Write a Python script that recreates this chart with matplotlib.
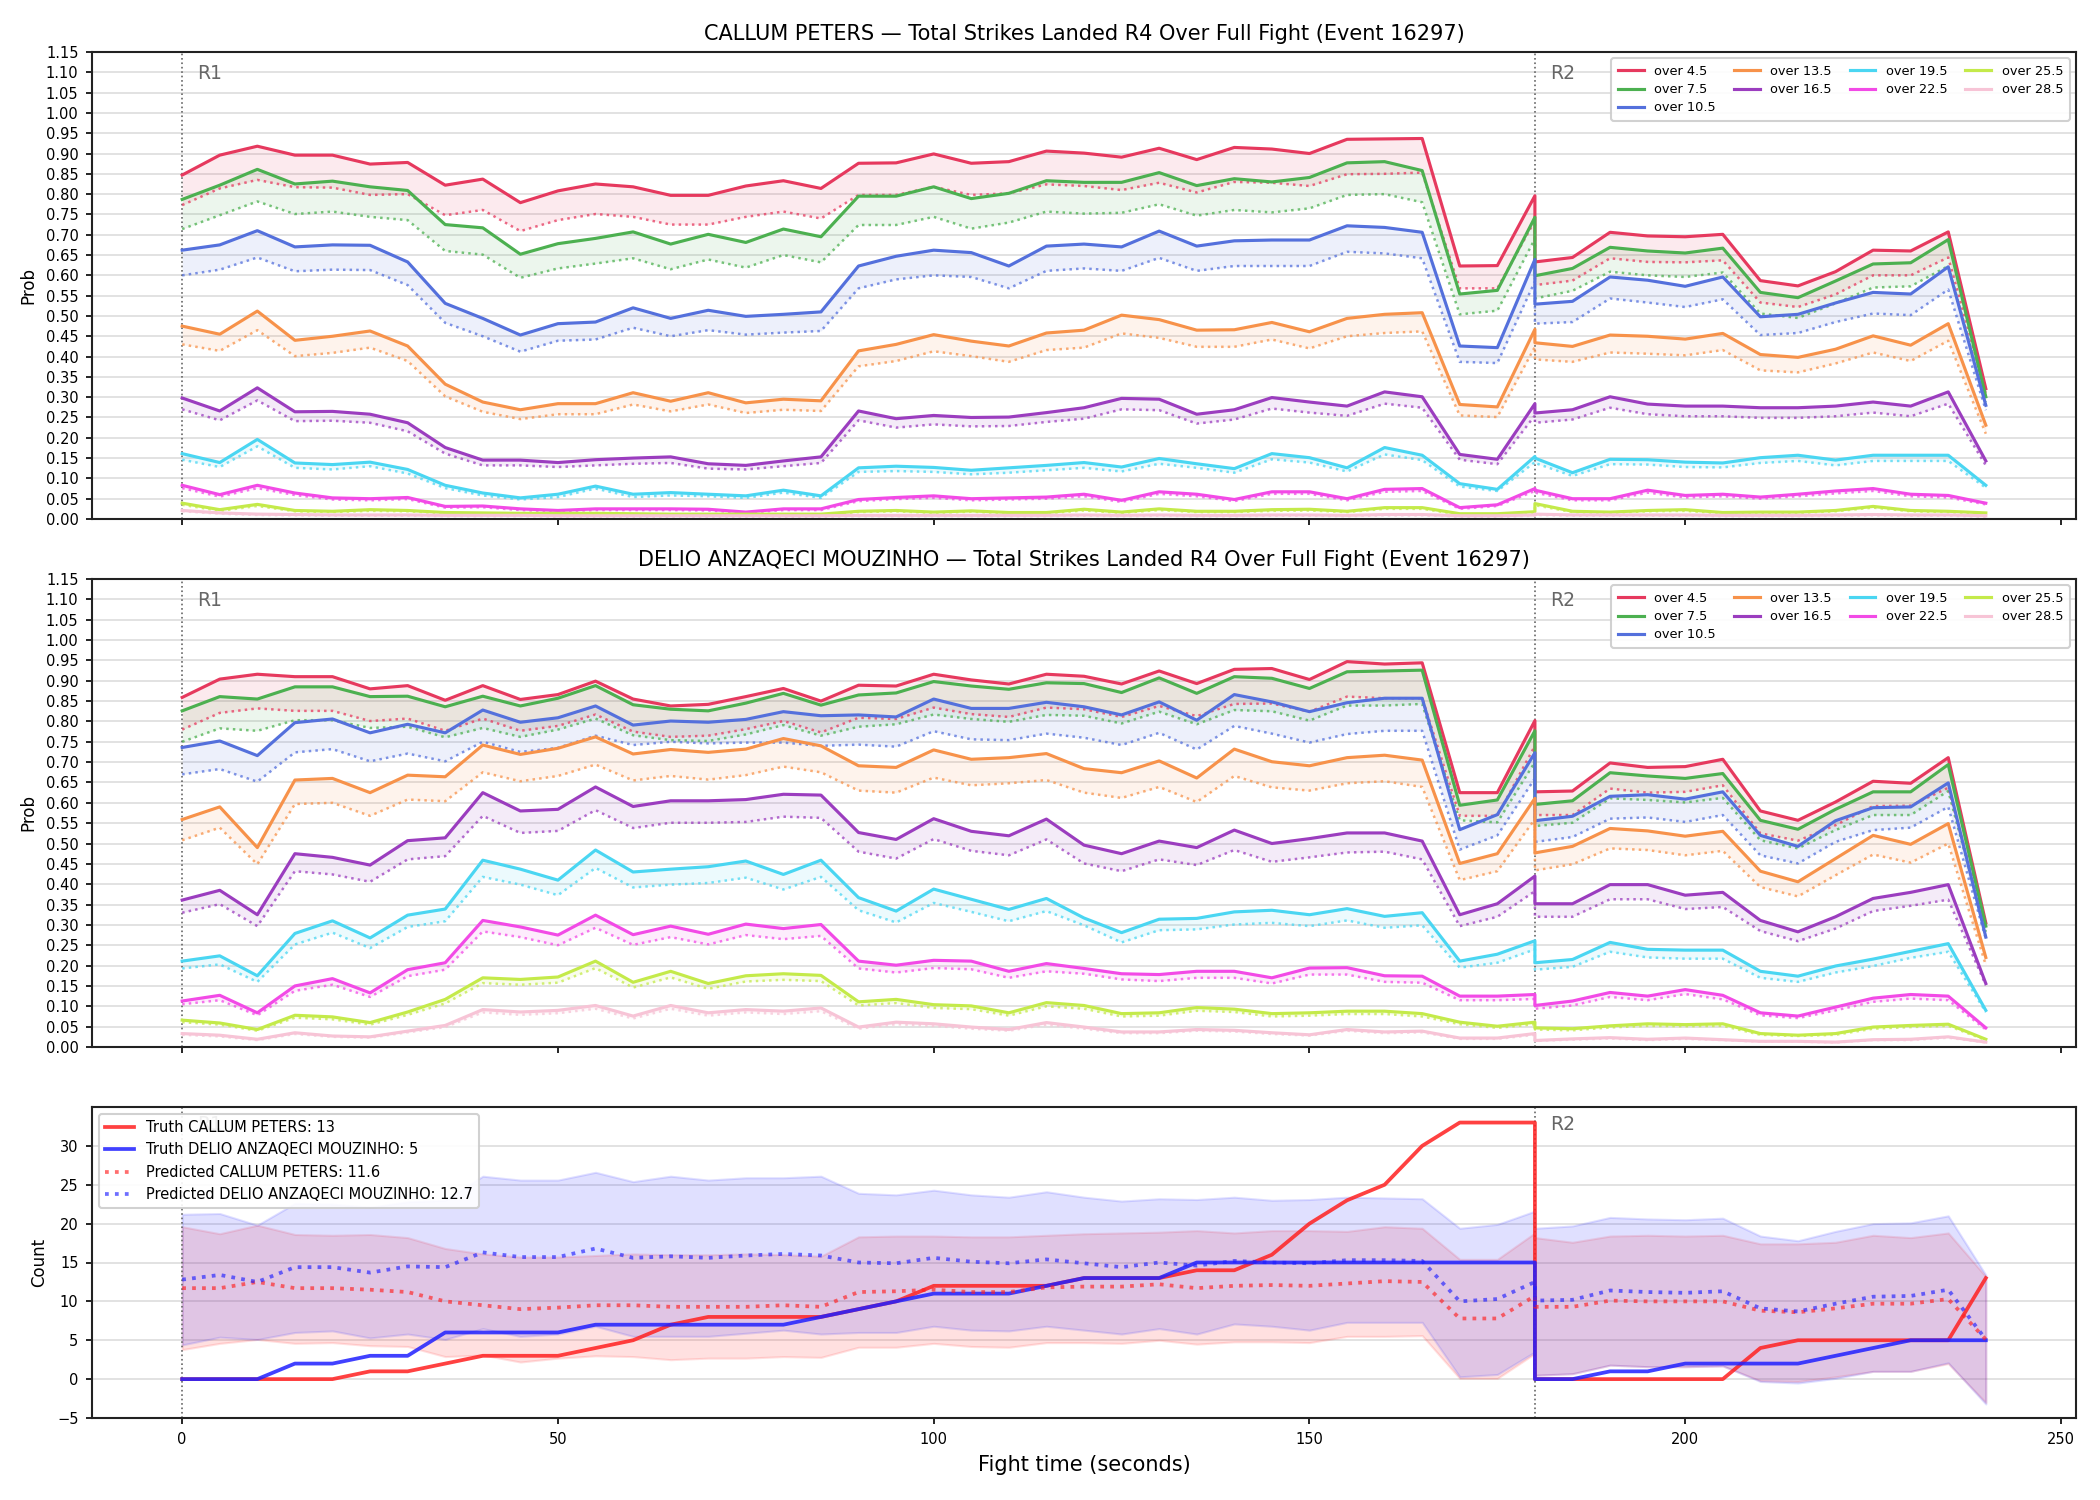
import matplotlib
matplotlib.use('Agg')
import matplotlib.pyplot as plt
import numpy as np

# ---------------- time axis (R1 0..180, R2 restarts at 180) ----------------
T_R1 = list(range(0, 181, 5))
T_R2 = list(range(180, 241, 5))
TIME = T_R1 + T_R2

LABELS = ['over 4.5', 'over 7.5', 'over 10.5', 'over 13.5', 'over 16.5',
          'over 19.5', 'over 22.5', 'over 25.5', 'over 28.5']
COLORS = ['#e6395e', '#4cb050', '#5470dc', '#f7924a', '#9b3dbf',
          '#4ad6f2', '#f24ae6', '#c4ea4a', '#f7c4d6']

TITLE_CP = 'CALLUM PETERS — Total Strikes Landed R4 Over Full Fight (Event 16297)'
TITLE_DM = 'DELIO ANZAQECI MOUZINHO — Total Strikes Landed R4 Over Full Fight (Event 16297)'

# ---------------- CALLUM PETERS: solid / dotted probabilities ----------------
CP_45 = [0.847, 0.896, 0.918, 0.896, 0.896, 0.874, 0.878, 0.822, 0.837, 0.779, 0.808, 0.825, 0.818,
         0.797, 0.797, 0.820, 0.833, 0.814, 0.876, 0.877, 0.899, 0.876, 0.880, 0.906, 0.901,
         0.891, 0.913, 0.885, 0.915, 0.911, 0.900, 0.935, 0.936, 0.937, 0.623, 0.624, 0.796] + \
        [0.633, 0.644, 0.706, 0.697, 0.695, 0.701, 0.587, 0.574, 0.609, 0.662, 0.660, 0.707, 0.321]
CP_45_D = [0.773, 0.814, 0.835, 0.817, 0.816, 0.798, 0.800, 0.748, 0.761, 0.709, 0.736, 0.751, 0.744,
           0.725, 0.725, 0.744, 0.757, 0.740, 0.798, 0.798, 0.818, 0.798, 0.802, 0.824, 0.820,
           0.810, 0.828, 0.804, 0.830, 0.828, 0.820, 0.849, 0.850, 0.853, 0.568, 0.568, 0.735] + \
          [0.576, 0.587, 0.642, 0.633, 0.632, 0.637, 0.533, 0.522, 0.553, 0.600, 0.600, 0.644, 0.309]
CP_75 = [0.787, 0.822, 0.861, 0.825, 0.832, 0.818, 0.809, 0.725, 0.717, 0.652, 0.678, 0.691, 0.707,
         0.677, 0.701, 0.681, 0.714, 0.695, 0.795, 0.795, 0.818, 0.789, 0.802, 0.833, 0.829,
         0.829, 0.853, 0.821, 0.838, 0.830, 0.841, 0.877, 0.880, 0.858, 0.554, 0.563, 0.743] + \
        [0.599, 0.617, 0.669, 0.660, 0.655, 0.667, 0.558, 0.545, 0.586, 0.628, 0.631, 0.688, 0.301]
CP_75_D = [0.714, 0.748, 0.782, 0.751, 0.757, 0.744, 0.736, 0.660, 0.651, 0.594, 0.617, 0.629, 0.642,
           0.615, 0.639, 0.619, 0.650, 0.632, 0.724, 0.724, 0.744, 0.715, 0.730, 0.757, 0.752,
           0.754, 0.775, 0.747, 0.761, 0.755, 0.765, 0.798, 0.800, 0.780, 0.504, 0.513, 0.690] + \
          [0.543, 0.562, 0.609, 0.600, 0.596, 0.607, 0.506, 0.495, 0.531, 0.570, 0.573, 0.623, 0.288]
CP_105 = [0.662, 0.675, 0.710, 0.670, 0.675, 0.674, 0.633, 0.531, 0.494, 0.453, 0.481, 0.485, 0.520,
          0.494, 0.514, 0.499, 0.504, 0.510, 0.623, 0.647, 0.662, 0.656, 0.623, 0.672, 0.677,
          0.670, 0.709, 0.672, 0.685, 0.687, 0.687, 0.722, 0.718, 0.706, 0.426, 0.422, 0.639] + \
         [0.529, 0.536, 0.596, 0.588, 0.573, 0.596, 0.498, 0.504, 0.532, 0.558, 0.554, 0.621, 0.280]
CP_105_D = [0.600, 0.614, 0.644, 0.610, 0.614, 0.613, 0.576, 0.483, 0.450, 0.412, 0.439, 0.442, 0.471,
            0.450, 0.465, 0.454, 0.459, 0.463, 0.568, 0.590, 0.600, 0.596, 0.568, 0.611, 0.617,
            0.611, 0.643, 0.611, 0.623, 0.623, 0.623, 0.658, 0.654, 0.642, 0.387, 0.384, 0.585] + \
           [0.481, 0.485, 0.543, 0.533, 0.522, 0.541, 0.453, 0.458, 0.485, 0.506, 0.502, 0.565, 0.268]
CP_135 = [0.475, 0.455, 0.512, 0.440, 0.450, 0.463, 0.426, 0.332, 0.288, 0.269, 0.284, 0.284, 0.311,
          0.290, 0.311, 0.286, 0.295, 0.291, 0.414, 0.430, 0.454, 0.438, 0.426, 0.458, 0.465,
          0.502, 0.491, 0.465, 0.466, 0.484, 0.461, 0.494, 0.504, 0.508, 0.282, 0.276, 0.467] + \
         [0.434, 0.425, 0.453, 0.450, 0.443, 0.457, 0.405, 0.398, 0.418, 0.451, 0.428, 0.481, 0.231]
CP_135_D = [0.430, 0.414, 0.465, 0.401, 0.409, 0.422, 0.389, 0.302, 0.264, 0.246, 0.258, 0.258, 0.282,
            0.265, 0.282, 0.261, 0.269, 0.266, 0.376, 0.389, 0.413, 0.401, 0.387, 0.416, 0.422,
            0.457, 0.446, 0.424, 0.424, 0.442, 0.420, 0.450, 0.458, 0.462, 0.255, 0.251, 0.424] + \
           [0.393, 0.387, 0.410, 0.407, 0.403, 0.416, 0.366, 0.361, 0.383, 0.410, 0.389, 0.439, 0.210]
CP_165 = [0.298, 0.266, 0.323, 0.264, 0.265, 0.258, 0.237, 0.176, 0.145, 0.145, 0.139, 0.146, 0.150,
          0.153, 0.136, 0.132, 0.143, 0.153, 0.266, 0.247, 0.255, 0.250, 0.251, 0.262, 0.274,
          0.297, 0.295, 0.258, 0.269, 0.299, 0.288, 0.278, 0.313, 0.301, 0.159, 0.147, 0.284] + \
         [0.261, 0.269, 0.301, 0.283, 0.278, 0.278, 0.274, 0.274, 0.278, 0.288, 0.278, 0.313, 0.143]
CP_165_D = [0.270, 0.243, 0.292, 0.241, 0.242, 0.237, 0.216, 0.161, 0.132, 0.132, 0.128, 0.132, 0.136,
            0.138, 0.124, 0.122, 0.130, 0.138, 0.243, 0.225, 0.233, 0.228, 0.229, 0.239, 0.247,
            0.270, 0.268, 0.235, 0.245, 0.272, 0.262, 0.254, 0.284, 0.274, 0.146, 0.135, 0.255] + \
           [0.237, 0.245, 0.274, 0.258, 0.253, 0.253, 0.249, 0.249, 0.253, 0.262, 0.253, 0.284, 0.132]
CP_195 = [0.161, 0.139, 0.196, 0.138, 0.134, 0.140, 0.122, 0.083, 0.064, 0.052, 0.061, 0.081, 0.061,
          0.065, 0.061, 0.057, 0.071, 0.057, 0.126, 0.130, 0.127, 0.120, 0.126, 0.132, 0.139,
          0.128, 0.149, 0.136, 0.124, 0.161, 0.151, 0.126, 0.176, 0.157, 0.087, 0.073, 0.154] + \
         [0.150, 0.114, 0.147, 0.146, 0.140, 0.138, 0.151, 0.157, 0.145, 0.157, 0.157, 0.157, 0.083]
CP_195_D = [0.146, 0.128, 0.179, 0.126, 0.122, 0.130, 0.112, 0.076, 0.058, 0.048, 0.054, 0.075, 0.054,
            0.058, 0.056, 0.052, 0.065, 0.052, 0.116, 0.118, 0.116, 0.110, 0.114, 0.120, 0.126,
            0.117, 0.136, 0.126, 0.114, 0.147, 0.139, 0.117, 0.159, 0.145, 0.080, 0.069, 0.140] + \
           [0.138, 0.106, 0.135, 0.134, 0.128, 0.127, 0.138, 0.143, 0.132, 0.143, 0.143, 0.143, 0.077]
CP_225 = [0.083, 0.060, 0.083, 0.064, 0.052, 0.050, 0.053, 0.031, 0.032, 0.025, 0.021, 0.025, 0.025,
          0.025, 0.024, 0.017, 0.025, 0.025, 0.048, 0.053, 0.057, 0.050, 0.052, 0.054, 0.061,
          0.046, 0.067, 0.061, 0.048, 0.067, 0.067, 0.050, 0.073, 0.075, 0.028, 0.035, 0.075] + \
         [0.071, 0.050, 0.050, 0.071, 0.058, 0.061, 0.054, 0.061, 0.069, 0.075, 0.061, 0.058, 0.039]
CP_225_D = [0.076, 0.055, 0.076, 0.059, 0.048, 0.046, 0.049, 0.028, 0.029, 0.022, 0.019, 0.022, 0.022,
            0.022, 0.021, 0.015, 0.022, 0.022, 0.044, 0.049, 0.052, 0.046, 0.048, 0.050, 0.056,
            0.042, 0.062, 0.056, 0.044, 0.062, 0.062, 0.046, 0.067, 0.069, 0.025, 0.032, 0.069] + \
           [0.065, 0.046, 0.046, 0.065, 0.053, 0.056, 0.050, 0.056, 0.063, 0.069, 0.056, 0.053, 0.036]
CP_255 = [0.039, 0.023, 0.036, 0.021, 0.019, 0.023, 0.021, 0.016, 0.015, 0.014, 0.014, 0.014, 0.013,
          0.012, 0.012, 0.012, 0.012, 0.012, 0.019, 0.021, 0.017, 0.020, 0.016, 0.016, 0.024,
          0.017, 0.025, 0.019, 0.019, 0.023, 0.024, 0.019, 0.028, 0.028, 0.013, 0.013, 0.018] + \
         [0.038, 0.019, 0.017, 0.021, 0.023, 0.016, 0.017, 0.017, 0.021, 0.031, 0.021, 0.019, 0.015]
CP_255_D = [0.035, 0.020, 0.032, 0.019, 0.017, 0.020, 0.019, 0.014, 0.013, 0.012, 0.012, 0.012, 0.011,
            0.010, 0.010, 0.010, 0.010, 0.010, 0.017, 0.019, 0.015, 0.018, 0.014, 0.014, 0.021,
            0.015, 0.022, 0.017, 0.017, 0.020, 0.021, 0.017, 0.025, 0.025, 0.011, 0.011, 0.016] + \
           [0.034, 0.017, 0.015, 0.019, 0.020, 0.014, 0.015, 0.015, 0.019, 0.028, 0.019, 0.017, 0.013]
CP_285 = [0.021, 0.015, 0.012, 0.011, 0.010, 0.010, 0.010, 0.009, 0.009, 0.009, 0.008, 0.008, 0.008,
          0.008, 0.008, 0.008, 0.008, 0.008, 0.009, 0.009, 0.009, 0.009, 0.009, 0.009, 0.010,
          0.009, 0.010, 0.009, 0.009, 0.010, 0.010, 0.009, 0.011, 0.011, 0.008, 0.008, 0.010] + \
         [0.012, 0.010, 0.010, 0.010, 0.010, 0.009, 0.009, 0.009, 0.010, 0.011, 0.010, 0.010, 0.008]
CP_285_D = [0.019, 0.013, 0.010, 0.009, 0.008, 0.008, 0.008, 0.007, 0.007, 0.007, 0.006, 0.006, 0.006,
            0.006, 0.006, 0.006, 0.006, 0.006, 0.007, 0.007, 0.007, 0.007, 0.007, 0.007, 0.008,
            0.007, 0.008, 0.007, 0.007, 0.008, 0.008, 0.007, 0.009, 0.009, 0.006, 0.006, 0.008] + \
           [0.010, 0.008, 0.008, 0.008, 0.008, 0.007, 0.007, 0.007, 0.008, 0.009, 0.008, 0.008, 0.006]

# ---------------- DELIO ANZAQECI MOUZINHO ----------------
DM_45 = [0.859, 0.904, 0.916, 0.910, 0.910, 0.880, 0.888, 0.852, 0.888, 0.854, 0.866, 0.899, 0.855,
         0.838, 0.842, 0.861, 0.881, 0.850, 0.889, 0.887, 0.916, 0.902, 0.892, 0.916, 0.911,
         0.892, 0.924, 0.893, 0.928, 0.930, 0.903, 0.947, 0.941, 0.944, 0.625, 0.625, 0.802] + \
        [0.627, 0.629, 0.698, 0.687, 0.689, 0.707, 0.580, 0.557, 0.602, 0.653, 0.648, 0.711, 0.305]
DM_45_D = [0.780, 0.821, 0.832, 0.826, 0.826, 0.801, 0.807, 0.777, 0.807, 0.777, 0.789, 0.817, 0.775,
           0.762, 0.765, 0.781, 0.801, 0.773, 0.809, 0.806, 0.834, 0.818, 0.811, 0.834, 0.830,
           0.811, 0.838, 0.813, 0.843, 0.844, 0.824, 0.861, 0.857, 0.857, 0.568, 0.568, 0.740] + \
          [0.570, 0.570, 0.635, 0.625, 0.627, 0.643, 0.525, 0.507, 0.545, 0.592, 0.593, 0.637, 0.295]
DM_75 = [0.826, 0.861, 0.855, 0.885, 0.885, 0.861, 0.862, 0.836, 0.862, 0.838, 0.857, 0.888, 0.841,
         0.830, 0.826, 0.845, 0.869, 0.840, 0.865, 0.870, 0.898, 0.887, 0.879, 0.895, 0.893,
         0.871, 0.907, 0.869, 0.910, 0.906, 0.881, 0.922, 0.924, 0.926, 0.594, 0.607, 0.777] + \
        [0.596, 0.605, 0.674, 0.666, 0.660, 0.672, 0.557, 0.535, 0.584, 0.627, 0.627, 0.694, 0.297]
DM_75_D = [0.750, 0.783, 0.777, 0.803, 0.803, 0.784, 0.787, 0.761, 0.784, 0.762, 0.780, 0.807, 0.766,
           0.754, 0.752, 0.768, 0.791, 0.765, 0.787, 0.793, 0.817, 0.806, 0.799, 0.816, 0.814,
           0.795, 0.824, 0.793, 0.828, 0.825, 0.802, 0.839, 0.839, 0.843, 0.557, 0.552, 0.700] + \
          [0.543, 0.551, 0.611, 0.607, 0.601, 0.612, 0.508, 0.488, 0.533, 0.570, 0.570, 0.629, 0.283]
DM_105 = [0.736, 0.752, 0.716, 0.797, 0.806, 0.772, 0.793, 0.772, 0.828, 0.798, 0.809, 0.838, 0.791,
          0.801, 0.798, 0.805, 0.824, 0.814, 0.816, 0.811, 0.855, 0.832, 0.832, 0.847, 0.836,
          0.816, 0.848, 0.803, 0.866, 0.848, 0.824, 0.846, 0.857, 0.857, 0.534, 0.571, 0.723] + \
         [0.556, 0.567, 0.616, 0.620, 0.609, 0.627, 0.520, 0.493, 0.556, 0.588, 0.590, 0.649, 0.270]
DM_105_D = [0.670, 0.683, 0.652, 0.724, 0.732, 0.702, 0.721, 0.702, 0.750, 0.725, 0.735, 0.765, 0.742,
            0.750, 0.746, 0.748, 0.748, 0.740, 0.743, 0.738, 0.776, 0.756, 0.754, 0.770, 0.760,
            0.742, 0.772, 0.731, 0.789, 0.770, 0.748, 0.769, 0.777, 0.777, 0.485, 0.520, 0.660] + \
           [0.504, 0.516, 0.561, 0.564, 0.553, 0.570, 0.471, 0.451, 0.504, 0.533, 0.539, 0.590, 0.266]
DM_135 = [0.559, 0.590, 0.490, 0.656, 0.660, 0.625, 0.668, 0.664, 0.742, 0.719, 0.734, 0.762, 0.720,
          0.731, 0.724, 0.732, 0.758, 0.740, 0.691, 0.687, 0.730, 0.707, 0.711, 0.721, 0.684,
          0.674, 0.703, 0.661, 0.732, 0.701, 0.691, 0.711, 0.717, 0.705, 0.451, 0.475, 0.611] + \
         [0.477, 0.493, 0.537, 0.531, 0.518, 0.530, 0.432, 0.406, 0.463, 0.520, 0.498, 0.549, 0.220]
DM_135_D = [0.508, 0.539, 0.449, 0.597, 0.600, 0.568, 0.608, 0.604, 0.675, 0.653, 0.666, 0.694, 0.655,
            0.666, 0.657, 0.668, 0.689, 0.675, 0.630, 0.625, 0.662, 0.643, 0.648, 0.656, 0.625,
            0.612, 0.639, 0.602, 0.666, 0.638, 0.630, 0.648, 0.653, 0.639, 0.410, 0.432, 0.560] + \
           [0.434, 0.449, 0.488, 0.484, 0.471, 0.482, 0.393, 0.370, 0.422, 0.473, 0.453, 0.500, 0.201]
DM_165 = [0.361, 0.385, 0.325, 0.475, 0.466, 0.447, 0.507, 0.514, 0.625, 0.580, 0.584, 0.639, 0.591,
          0.605, 0.605, 0.608, 0.621, 0.619, 0.527, 0.510, 0.561, 0.530, 0.519, 0.560, 0.496,
          0.475, 0.506, 0.490, 0.533, 0.500, 0.512, 0.526, 0.526, 0.506, 0.325, 0.352, 0.420] + \
         [0.352, 0.352, 0.399, 0.399, 0.373, 0.380, 0.311, 0.283, 0.320, 0.365, 0.380, 0.399, 0.156]
DM_165_D = [0.330, 0.351, 0.297, 0.432, 0.424, 0.406, 0.461, 0.469, 0.568, 0.526, 0.531, 0.582, 0.538,
            0.551, 0.551, 0.553, 0.566, 0.563, 0.480, 0.463, 0.511, 0.482, 0.471, 0.510, 0.451,
            0.432, 0.461, 0.447, 0.484, 0.455, 0.466, 0.478, 0.480, 0.461, 0.297, 0.320, 0.383] + \
           [0.320, 0.320, 0.363, 0.363, 0.339, 0.344, 0.285, 0.260, 0.291, 0.334, 0.347, 0.362, 0.152]
DM_195 = [0.211, 0.224, 0.175, 0.279, 0.310, 0.268, 0.324, 0.339, 0.459, 0.437, 0.410, 0.484, 0.430,
          0.437, 0.443, 0.457, 0.424, 0.459, 0.367, 0.334, 0.388, 0.363, 0.338, 0.365, 0.317,
          0.281, 0.314, 0.316, 0.332, 0.336, 0.325, 0.340, 0.321, 0.330, 0.211, 0.228, 0.261] + \
         [0.207, 0.215, 0.257, 0.240, 0.238, 0.238, 0.186, 0.174, 0.199, 0.216, 0.235, 0.254, 0.090]
DM_195_D = [0.193, 0.203, 0.160, 0.252, 0.281, 0.243, 0.295, 0.309, 0.418, 0.399, 0.373, 0.440, 0.392,
            0.399, 0.403, 0.416, 0.387, 0.418, 0.336, 0.306, 0.354, 0.332, 0.309, 0.334, 0.299,
            0.257, 0.287, 0.289, 0.301, 0.305, 0.297, 0.311, 0.293, 0.299, 0.195, 0.207, 0.240] + \
           [0.190, 0.197, 0.234, 0.220, 0.217, 0.217, 0.170, 0.160, 0.183, 0.199, 0.219, 0.234, 0.086]
DM_225 = [0.113, 0.127, 0.084, 0.150, 0.168, 0.133, 0.190, 0.207, 0.311, 0.295, 0.275, 0.324, 0.276,
          0.297, 0.277, 0.302, 0.291, 0.301, 0.211, 0.201, 0.213, 0.211, 0.186, 0.205, 0.193,
          0.180, 0.178, 0.186, 0.186, 0.170, 0.194, 0.195, 0.175, 0.174, 0.125, 0.125, 0.129] + \
         [0.102, 0.113, 0.134, 0.125, 0.141, 0.127, 0.084, 0.076, 0.098, 0.120, 0.129, 0.125, 0.047]
DM_225_D = [0.105, 0.115, 0.078, 0.138, 0.153, 0.123, 0.174, 0.190, 0.284, 0.270, 0.250, 0.293, 0.251,
            0.270, 0.252, 0.275, 0.265, 0.273, 0.193, 0.183, 0.194, 0.191, 0.170, 0.186, 0.180,
            0.166, 0.162, 0.170, 0.170, 0.156, 0.178, 0.178, 0.160, 0.158, 0.115, 0.115, 0.118] + \
           [0.094, 0.102, 0.123, 0.115, 0.130, 0.117, 0.078, 0.071, 0.090, 0.111, 0.119, 0.115, 0.043]
DM_255 = [0.066, 0.059, 0.043, 0.078, 0.074, 0.060, 0.086, 0.117, 0.170, 0.166, 0.172, 0.211, 0.159,
          0.186, 0.156, 0.175, 0.180, 0.176, 0.111, 0.117, 0.104, 0.101, 0.084, 0.109, 0.102,
          0.082, 0.084, 0.097, 0.093, 0.082, 0.084, 0.088, 0.088, 0.082, 0.061, 0.051, 0.061] + \
         [0.047, 0.045, 0.052, 0.057, 0.055, 0.057, 0.033, 0.029, 0.033, 0.049, 0.053, 0.056, 0.019]
DM_255_D = [0.061, 0.055, 0.040, 0.072, 0.068, 0.055, 0.079, 0.107, 0.157, 0.153, 0.158, 0.194, 0.146,
            0.171, 0.143, 0.161, 0.165, 0.162, 0.102, 0.108, 0.096, 0.093, 0.077, 0.100, 0.094,
            0.075, 0.077, 0.089, 0.086, 0.075, 0.077, 0.081, 0.081, 0.075, 0.056, 0.047, 0.056] + \
           [0.043, 0.041, 0.048, 0.052, 0.051, 0.052, 0.030, 0.027, 0.030, 0.045, 0.049, 0.052, 0.017]
DM_285 = [0.033, 0.029, 0.019, 0.035, 0.027, 0.025, 0.039, 0.053, 0.092, 0.086, 0.090, 0.102, 0.076,
          0.102, 0.084, 0.092, 0.088, 0.096, 0.049, 0.061, 0.057, 0.049, 0.043, 0.060, 0.049,
          0.037, 0.037, 0.043, 0.041, 0.035, 0.030, 0.043, 0.037, 0.039, 0.022, 0.022, 0.033] + \
         [0.016, 0.020, 0.023, 0.019, 0.022, 0.018, 0.014, 0.014, 0.012, 0.018, 0.019, 0.025, 0.012]
DM_285_D = [0.030, 0.026, 0.017, 0.032, 0.025, 0.023, 0.036, 0.049, 0.085, 0.079, 0.083, 0.094, 0.070,
            0.094, 0.077, 0.085, 0.081, 0.088, 0.045, 0.056, 0.052, 0.045, 0.040, 0.055, 0.045,
            0.034, 0.034, 0.040, 0.038, 0.032, 0.028, 0.040, 0.034, 0.036, 0.020, 0.020, 0.030] + \
           [0.015, 0.018, 0.021, 0.017, 0.020, 0.017, 0.013, 0.013, 0.011, 0.017, 0.017, 0.023, 0.011]

# ---------------- bottom panel: counts ----------------
TRUTH_CP = [0, 0, 0, 0, 0, 1, 1, 2, 3, 3, 3, 4, 5,
            7, 8, 8, 8, 8, 9, 10, 12, 12, 12, 12, 13,
            13, 13, 14, 14, 16, 20, 23, 25, 30, 33, 33, 33] + \
           [0, 0, 0, 0, 0, 0, 4, 5, 5, 5, 5, 5, 13]
TRUTH_DM = [0, 0, 0, 2, 2, 3, 3, 6, 6, 6, 6, 7, 7,
            7, 7, 7, 7, 8, 9, 10, 11, 11, 11, 12, 13,
            13, 13, 15, 15, 15, 15, 15, 15, 15, 15, 15, 15] + \
           [0, 0, 1, 1, 2, 2, 2, 2, 3, 4, 5, 5, 5]
PRED_CP = [11.7, 11.7, 12.5, 11.7, 11.7, 11.5, 11.2, 10.0, 9.5, 9.0, 9.2, 9.5, 9.5,
           9.3, 9.3, 9.3, 9.5, 9.3, 11.2, 11.3, 11.5, 11.2, 11.2, 11.8, 11.9,
           11.9, 12.2, 11.7, 12.0, 12.1, 12.0, 12.3, 12.6, 12.5, 7.8, 7.8, 10.7] + \
          [9.3, 9.3, 10.1, 10.0, 10.0, 10.0, 8.8, 8.6, 9.1, 9.7, 9.7, 10.3, 5.1]
PRED_DM = [12.8, 13.4, 12.5, 14.4, 14.4, 13.7, 14.5, 14.4, 16.3, 15.7, 15.7, 16.8, 15.6,
           15.8, 15.6, 15.9, 16.1, 15.9, 15.0, 14.9, 15.6, 15.1, 14.9, 15.4, 14.9,
           14.4, 15.0, 14.6, 15.2, 15.0, 14.9, 15.3, 15.3, 15.2, 10.0, 10.3, 12.5] + \
          [10.1, 10.2, 11.4, 11.2, 11.1, 11.3, 9.1, 8.7, 9.7, 10.6, 10.7, 11.5, 5.1]
CP_HI = [19.6, 18.7, 19.8, 18.6, 18.5, 18.6, 18.2, 16.8, 16.1, 15.7, 15.7, 15.9, 16.1,
         16.0, 16.0, 16.1, 16.0, 15.8, 18.3, 18.4, 18.4, 18.3, 18.3, 18.5, 18.7,
         18.8, 18.9, 19.1, 18.8, 19.1, 19.1, 19.0, 19.6, 19.4, 15.4, 15.4, 18.8] + \
        [18.2, 17.6, 18.4, 18.5, 18.4, 18.5, 17.4, 17.4, 17.6, 18.5, 18.2, 18.8, 13.2]
CP_LO = [3.8, 4.6, 5.1, 4.6, 4.7, 4.3, 4.2, 2.9, 3.1, 2.2, 2.7, 3.0, 2.9,
         2.5, 2.7, 2.7, 2.9, 2.8, 4.1, 4.1, 4.6, 4.2, 4.1, 4.7, 4.7,
         4.6, 5.0, 4.5, 4.8, 4.8, 4.7, 5.5, 5.5, 5.6, 0.1, 0.1, 3.3] + \
        [0.5, 0.7, 1.8, 1.6, 1.6, 1.7, -0.2, -0.3, 0.3, 1.0, 1.0, 2.0, -3.0]
DM_HI = [21.2, 21.3, 19.8, 22.6, 22.5, 22.1, 22.8, 23.0, 26.1, 25.6, 25.6, 26.6, 25.4,
         26.1, 25.6, 25.9, 25.9, 26.1, 23.9, 23.7, 24.3, 23.7, 23.4, 24.1, 23.4,
         22.9, 23.2, 23.1, 23.4, 23.0, 23.1, 23.4, 23.3, 23.2, 19.4, 19.9, 21.6] + \
        [19.4, 19.7, 20.8, 20.6, 20.5, 20.7, 18.4, 17.8, 19.0, 20.0, 20.1, 21.0, 13.4]
DM_LO = [4.4, 5.4, 5.1, 6.0, 6.2, 5.3, 5.8, 5.1, 6.5, 5.5, 5.8, 6.8, 5.5,
         5.5, 5.5, 5.9, 6.3, 5.8, 6.0, 6.0, 6.8, 6.3, 6.2, 6.8, 6.3,
         5.8, 6.5, 5.8, 7.1, 6.8, 6.3, 7.3, 7.3, 7.3, 0.3, 0.6, 3.5] + \
        [0.5, 0.7, 1.8, 1.6, 1.6, 1.7, -0.3, -0.5, 0.1, 1.0, 1.0, 2.1, -3.2]

LEG_TRUTH_CP = 'Truth CALLUM PETERS: 13'
LEG_TRUTH_DM = 'Truth DELIO ANZAQECI MOUZINHO: 5'
LEG_PRED_CP = 'Predicted CALLUM PETERS: 11.6'
LEG_PRED_DM = 'Predicted DELIO ANZAQECI MOUZINHO: 12.7'

CP_SOLID = [CP_45, CP_75, CP_105, CP_135, CP_165, CP_195, CP_225, CP_255, CP_285]
CP_DOT = [CP_45_D, CP_75_D, CP_105_D, CP_135_D, CP_165_D, CP_195_D, CP_225_D, CP_255_D, CP_285_D]
DM_SOLID = [DM_45, DM_75, DM_105, DM_135, DM_165, DM_195, DM_225, DM_255, DM_285]
DM_DOT = [DM_45_D, DM_75_D, DM_105_D, DM_135_D, DM_165_D, DM_195_D, DM_225_D, DM_255_D, DM_285_D]

# ---------------- figure ----------------
plt.rcParams['font.family'] = ['DejaVu Sans']
fig = plt.figure(figsize=(14, 10), dpi=150)
W, H = 2100.0, 1500.0


def box(l, t, r, b):
    return [l / W, 1 - b / H, (r - l) / W, (b - t) / H]


ax1 = fig.add_axes(box(92, 52, 2076, 519))
ax2 = fig.add_axes(box(92, 579, 2076, 1047), sharex=ax1)
ax3 = fig.add_axes(box(92, 1107, 2076, 1418), sharex=ax1)

t = np.array(TIME, dtype=float)


def style_axis(ax):
    for sp in ax.spines.values():
        sp.set_linewidth(1.0)
        sp.set_color('#222222')
    ax.grid(axis='y', color='#dddddd', linewidth=0.8)
    ax.set_axisbelow(True)
    ax.tick_params(labelsize=7, length=3, width=0.8)


def round_marks(ax, rounds):
    for x0, lab in rounds:
        ax.axvline(x0, color='#666666', linestyle=':', linewidth=0.8, zorder=1)
        ax.text(x0 + 2, 0.975, lab, transform=ax.get_xaxis_transform(),
                ha='left', va='top', fontsize=9, color='#666666')


def prob_panel(ax, solids, dots, title):
    style_axis(ax)
    for lab, col, s, d in zip(LABELS, COLORS, solids, dots):
        s = np.array(s)
        d = np.array(d)
        ax.fill_between(t, s, d, color=col, alpha=0.1, linewidth=0)
        ax.plot(t, d, color=col, linestyle=':', linewidth=1.2, alpha=0.75)
        ax.plot(t, s, color=col, linewidth=1.5, label=lab)
    ax.set_ylim(0, 1.15)
    ax.set_yticks(np.round(np.arange(0, 1.1501, 0.05), 2))
    ax.yaxis.set_major_formatter(matplotlib.ticker.FormatStrFormatter('%.2f'))
    ax.set_ylabel('Prob', fontsize=8)
    ax.set_title(title, fontsize=10, pad=6)
    round_marks(ax, [(0, 'R1'), (180, 'R2')])
    ax.legend(loc='upper right', ncol=4, fontsize=6.2, framealpha=0.9,
              handlelength=2.0, columnspacing=1.4, borderpad=0.5, labelspacing=0.4,
              handletextpad=0.8)
    plt.setp(ax.get_xticklabels(), visible=False)


prob_panel(ax1, CP_SOLID, CP_DOT, TITLE_CP)
prob_panel(ax2, DM_SOLID, DM_DOT, TITLE_DM)

# bottom count panel
style_axis(ax3)
ax3.fill_between(t, CP_LO, CP_HI, color='#ff3030', alpha=0.15, linewidth=1.0)
ax3.fill_between(t, DM_LO, DM_HI, color='#3030ff', alpha=0.15, linewidth=1.0)
ax3.plot(t, TRUTH_CP, color='#ff2020', linewidth=1.8, alpha=0.85, label=LEG_TRUTH_CP)
ax3.plot(t, TRUTH_DM, color='#2020ff', linewidth=1.8, alpha=0.85, label=LEG_TRUTH_DM)
ax3.plot(t, PRED_CP, color='#ff2020', linewidth=1.8, linestyle=':', alpha=0.65, label=LEG_PRED_CP)
ax3.plot(t, PRED_DM, color='#2020ff', linewidth=1.8, linestyle=':', alpha=0.65, label=LEG_PRED_DM)
ax3.set_ylim(-5, 35)
ax3.set_yticks(np.arange(-5, 31, 5))
ax3.set_ylabel('Count', fontsize=8)
round_marks(ax3, [(0, 'R1'), (180, 'R2')])
ax3.legend(loc='upper left', fontsize=7, framealpha=0.9)

ax1.set_xlim(-12, 252)
ax1.set_xticks([0, 50, 100, 150, 200, 250])
ax3.set_xlabel('Fight time (seconds)', fontsize=10)

fig.savefig('out.png', dpi=150)
